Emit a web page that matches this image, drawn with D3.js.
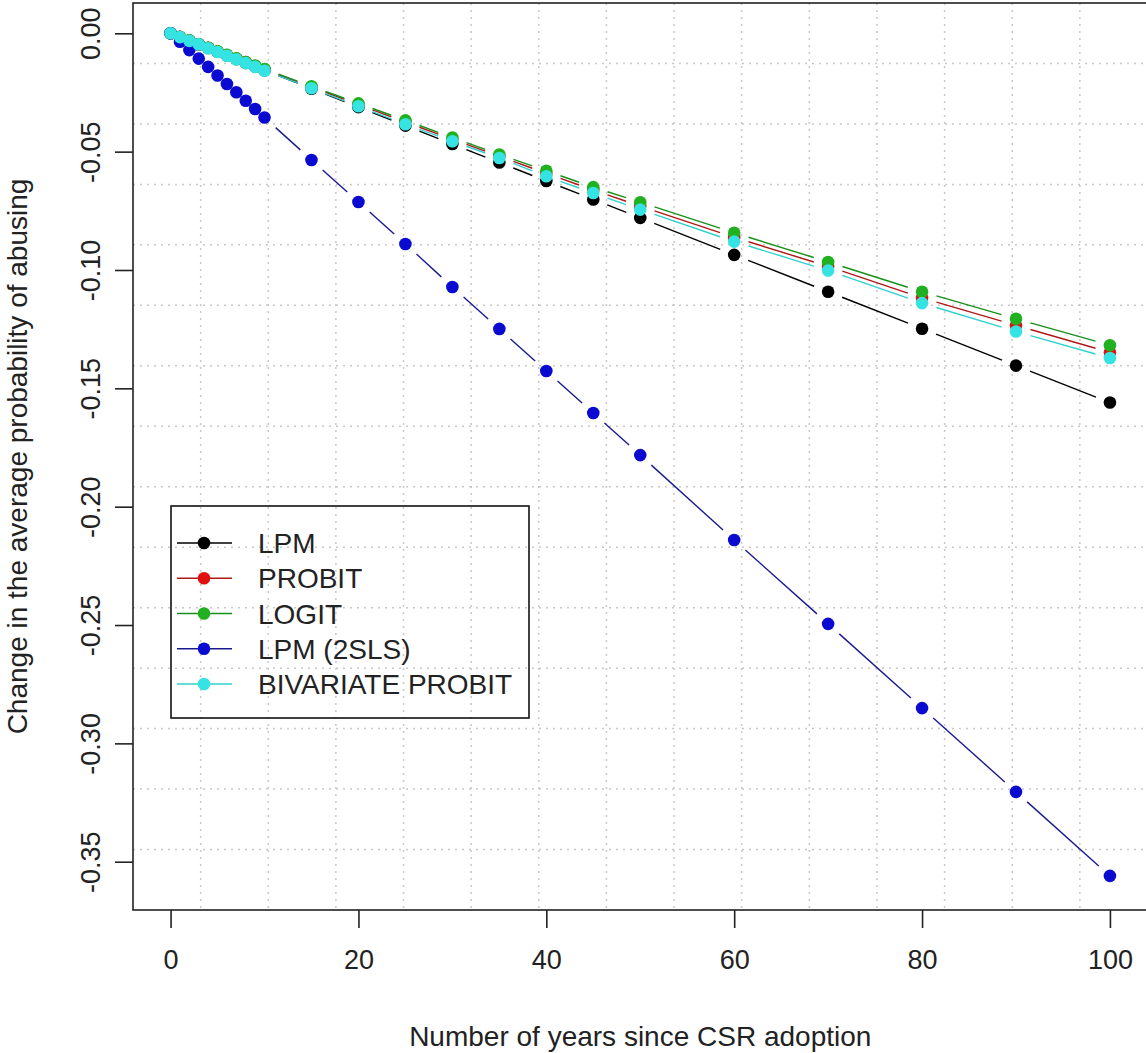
<!DOCTYPE html>
<html>
<head>
<meta charset="utf-8">
<script src="https://cdn.jsdelivr.net/npm/d3@7"></script>
<style>
  body { margin: 0; background: #fff; }
  text { font-family: "Liberation Sans", Arial, sans-serif; fill: #222; }
  .grid line { stroke: #c8c8c8; stroke-width: 1.5; stroke-dasharray: 2 5; }
</style>
</head>
<body>
<div id="chart"></div>
<script>
const years = [0, 1, 2, 3, 4, 5, 6, 7, 8, 9, 10, 15, 20, 25, 30, 35, 40, 45, 50, 60, 70, 80, 90, 100];

const lpm = [0, -0.0016, -0.0031, -0.0047, -0.0062, -0.0078, -0.0094, -0.0109, -0.0125, -0.0140, -0.0156,
  -0.0234, -0.0312, -0.0390, -0.0468, -0.0546, -0.0624, -0.0702, -0.0780, -0.0936, -0.1092, -0.1248, -0.1404, -0.1560];
const probit = [0, -0.0015, -0.0031, -0.0046, -0.0061, -0.0077, -0.0092, -0.0107, -0.0122, -0.0138, -0.0153,
  -0.0227, -0.0301, -0.0375, -0.0448, -0.0519, -0.0592, -0.0662, -0.0730, -0.0862, -0.0985, -0.1118, -0.1234, -0.1348];
const logit = [0, -0.0015, -0.0030, -0.0045, -0.0061, -0.0076, -0.0091, -0.0106, -0.0121, -0.0136, -0.0151,
  -0.0224, -0.0296, -0.0368, -0.0440, -0.0512, -0.0581, -0.0650, -0.0714, -0.0843, -0.0966, -0.1092, -0.1206, -0.1318];
const lpm2sls = [0, -0.0036, -0.0071, -0.0107, -0.0142, -0.0178, -0.0214, -0.0249, -0.0285, -0.0320, -0.0356,
  -0.0535, -0.0713, -0.0890, -0.1072, -0.1249, -0.1427, -0.1604, -0.1782, -0.2141, -0.2495, -0.2851, -0.3205, -0.3560];
const biprobit = [0, -0.0016, -0.0032, -0.0047, -0.0063, -0.0079, -0.0095, -0.0110, -0.0126, -0.0142, -0.0158,
  -0.0232, -0.0308, -0.0384, -0.0456, -0.0527, -0.0604, -0.0675, -0.0745, -0.0880, -0.1002, -0.1140, -0.1260, -0.1372];

const seriesNames = ["LPM", "PROBIT", "LOGIT", "LPM (2SLS)", "BIVARIATE PROBIT"];
const seriesValues = [lpm, probit, logit, lpm2sls, biprobit];
const seriesColors = ["#000000", "#e01010", "#20b020", "#0a0ad0", "#35e3e3"];
const lineColors = ["#000000", "#b01818", "#189018", "#1a1a90", "#30d0d0"];

const xTicks = [0, 20, 40, 60, 80, 100];
const yTicks = [0, -0.05, -0.10, -0.15, -0.20, -0.25, -0.30, -0.35];

const W = 1146, H = 1053;
const box = {left: 133, right: 1147.5, top: 3, bottom: 910};

const svg = d3.select("#chart").append("svg")
  .attr("width", W)
  .attr("height", H);

const x = d3.scaleLinear().domain([-4, 104]).range([box.left, box.right]);
const y = d3.scaleLinear().domain([-0.3704, 0.0128]).range([box.bottom, box.top]);

// R style grid (nx = ny = 15)
const xd = x.domain(), yd = y.domain();
const gx = d3.range(1, 15).map(k => xd[0] + k * (xd[1] - xd[0]) / 15);
const gy = d3.range(1, 15).map(k => yd[0] + k * (yd[1] - yd[0]) / 15);
const grid = svg.append("g").attr("class", "grid");
grid.selectAll(".gv").data(gx).enter().append("line")
  .attr("x1", d => x(d)).attr("x2", d => x(d))
  .attr("y1", box.top).attr("y2", box.bottom);
grid.selectAll(".gh").data(gy).enter().append("line")
  .attr("x1", box.left).attr("x2", box.right)
  .attr("y1", d => y(d)).attr("y2", d => y(d));

// lines with gaps round the points (type = "b")
const gap = 15;
seriesValues.forEach((vals, i) => {
  const pts = years.map((yr, j) => [x(yr), y(vals[j])]);
  const g = svg.append("g");
  for (let j = 0; j < pts.length - 1; j++) {
    const [x1, y1] = pts[j], [x2, y2] = pts[j + 1];
    const d = Math.hypot(x2 - x1, y2 - y1);
    if (d <= 2 * gap) continue;
    const ux = (x2 - x1) / d, uy = (y2 - y1) / d;
    g.append("line")
      .attr("x1", x1 + ux * gap).attr("y1", y1 + uy * gap)
      .attr("x2", x2 - ux * gap).attr("y2", y2 - uy * gap)
      .attr("stroke", lineColors[i])
      .attr("stroke-width", 1.4);
  }
  g.selectAll("circle")
    .data(years.map((yr, j) => ({yr, v: vals[j]})))
    .enter().append("circle")
      .attr("cx", d => x(d.yr))
      .attr("cy", d => y(d.v))
      .attr("r", 6.3)
      .attr("fill", seriesColors[i]);
});

// axes
const xAxis = svg.append("g")
  .attr("transform", `translate(0, ${box.bottom})`)
  .call(d3.axisBottom(x).tickValues(xTicks).tickSize(18).tickSizeOuter(0).tickPadding(22));
xAxis.select(".domain").remove();
xAxis.selectAll(".tick line").attr("stroke", "#222").attr("stroke-width", 1.6);
xAxis.selectAll("text").attr("font-size", 27).attr("fill", "#222")
  .attr("font-family", "Liberation Sans, Arial, sans-serif");

// plain hyphen for negatives, as R prints them
const fmtY = d => d3.format(".2f")(d).replace("\u2212", "-");
const yAxis = svg.append("g")
  .attr("transform", `translate(${box.left}, 0)`)
  .call(d3.axisLeft(y).tickValues(yTicks).tickSize(18).tickSizeOuter(0).tickFormat(fmtY));
yAxis.select(".domain").remove();
yAxis.selectAll(".tick line").attr("stroke", "#222").attr("stroke-width", 1.6);
yAxis.selectAll("text")
  .attr("x", 0).attr("y", 0).attr("dy", 0)
  .attr("text-anchor", "middle")
  .attr("transform", "translate(-33, 0) rotate(-90)")
  .attr("font-size", 27).attr("fill", "#222")
  .attr("font-family", "Liberation Sans, Arial, sans-serif");

// plot box
svg.append("rect")
  .attr("x", box.left).attr("y", box.top)
  .attr("width", box.right - box.left).attr("height", box.bottom - box.top)
  .attr("fill", "none").attr("stroke", "#222").attr("stroke-width", 1.6);

// axis titles
svg.append("text")
  .attr("x", (box.left + box.right) / 2)
  .attr("y", 1046)
  .attr("text-anchor", "middle")
  .attr("font-size", 28)
  .text("Number of years since CSR adoption");
svg.append("text")
  .attr("transform", `translate(27, ${(box.top + box.bottom) / 2}) rotate(-90)`)
  .attr("text-anchor", "middle")
  .attr("font-size", 28)
  .text("Change in the average probability of abusing");

// legend
const legend = svg.append("g");
legend.append("rect")
  .attr("x", 171).attr("y", 506)
  .attr("width", 358).attr("height", 212)
  .attr("fill", "none").attr("stroke", "#111").attr("stroke-width", 1.6);
const rowY = d3.scalePoint().domain(seriesNames).range([543, 684]);
seriesNames.forEach((name, i) => {
  const ry = rowY(name);
  legend.append("line")
    .attr("x1", 177).attr("x2", 232).attr("y1", ry).attr("y2", ry)
    .attr("stroke", lineColors[i]).attr("stroke-width", 1.6);
  legend.append("circle")
    .attr("cx", 204).attr("cy", ry).attr("r", 6.3)
    .attr("fill", seriesColors[i]);
  legend.append("text")
    .attr("x", 258).attr("y", ry)
    .attr("dy", "0.36em")
    .attr("font-size", 28)
    .text(name);
});
</script>
</body>
</html>
